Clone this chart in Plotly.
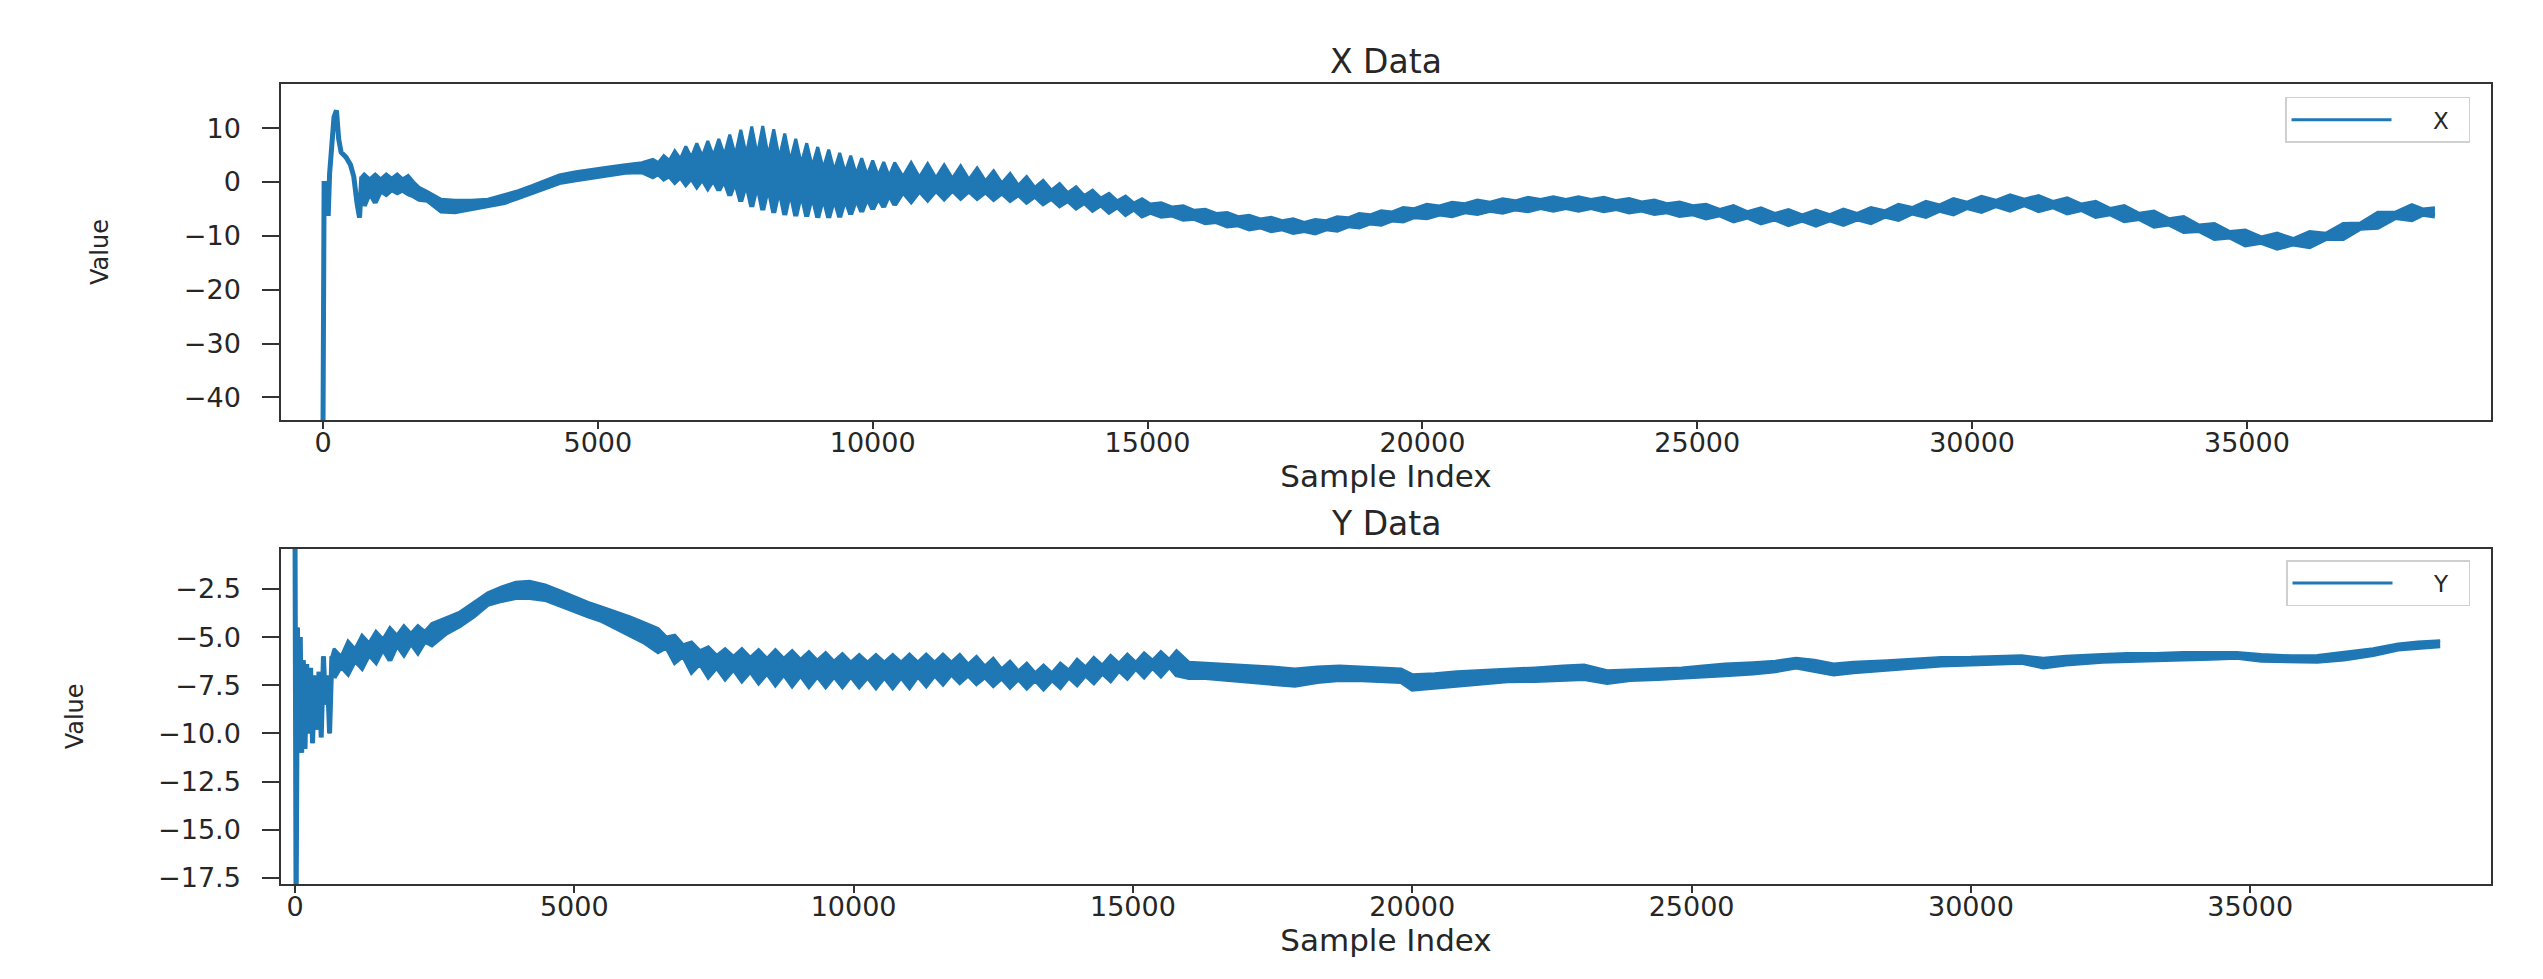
import plotly.graph_objects as go

# ---------------- X series (top panel) ----------------
# head of the record: a single thin path (upper = lower)
X_HEAD_IDX = [0, 20, 70, 95, 120, 200, 245, 285, 330, 420, 500, 560, 620, 665, 705]
X_HEAD_VAL = [-46.0, -0.3, -0.3, -6.3, 1.5, 12.0, 13.3, 8.0, 5.5, 4.6, 3.2, 1.0, -4.0, -6.6, 1.0]

# oscillating band: sample index, upper edge, lower edge
X_BAND_IDX = [
    750, 850, 950, 1050, 1150, 1250, 1350, 1450, 1550, 1650,
    1750, 1900, 2150, 2400, 2700, 3000, 3300, 3550, 3800, 4050,
    4300, 4600, 4900, 5200, 5500, 5800, 6000, 6100, 6200, 6300,
    6400, 6500, 6600, 6700, 6800, 6900, 7000, 7100, 7200, 7300,
    7400, 7500, 7600, 7700, 7800, 7900, 8000, 8100, 8200, 8300,
    8400, 8500, 8600, 8700, 8800, 8900, 9000, 9100, 9200, 9300,
    9400, 9500, 9600, 9700, 9800, 9900, 10000, 10100, 10200, 10300,
    10400, 10550, 10700, 10850, 11000, 11150, 11300, 11450, 11600, 11750,
    11900, 12050, 12200, 12350, 12500, 12650, 12800, 12950, 13100, 13250,
    13400, 13550, 13700, 13850, 14000, 14150, 14300, 14450, 14600, 14750,
    14900, 15050, 15250, 15450, 15650, 15850, 16050, 16250, 16450, 16650,
    16850, 17050, 17250, 17450, 17650, 17850, 18050, 18250, 18450, 18650,
    18850, 19050, 19250, 19450, 19650, 19850, 20080, 20310, 20540, 20770,
    21000, 21230, 21460, 21690, 21920, 22150, 22380, 22610, 22840, 23070,
    23300, 23530, 23760, 23990, 24220, 24450, 24680, 24920, 25160, 25410,
    25660, 25910, 26160, 26410, 26660, 26910, 27160, 27410, 27660, 27910,
    28160, 28410, 28660, 28910, 29160, 29410, 29660, 29910, 30170, 30430,
    30690, 30950, 31210, 31470, 31730, 31990, 32250, 32510, 32770, 33040,
    33310, 33580, 33850, 34130, 34410, 34690, 34970, 35260, 35550, 35840,
    36140, 36440, 36750, 37060, 37380, 37700, 38000, 38200, 38420,
]
X_BAND_HI = [
    1.5, 0.6, 1.5, 0.6, 1.5, 0.7, 1.5, 0.6, 1.2, 0.0,
    -1.0, -1.8, -3.2, -3.4, -3.4, -3.2, -2.4, -1.6, -0.7, 0.3,
    1.3, 1.9, 2.4, 2.8, 3.2, 3.6, 4.2, 3.6, 4.9, 4.0,
    5.8, 4.3, 6.6, 4.6, 7.2, 4.8, 7.6, 4.9, 8.0, 5.0,
    8.8, 5.0, 9.7, 5.1, 10.3, 5.0, 10.4, 4.8, 9.8, 4.4,
    9.0, 3.9, 8.0, 3.4, 7.2, 2.9, 6.5, 2.5, 6.0, 2.1,
    5.4, 1.8, 4.9, 1.5, 4.4, 1.3, 4.0, 1.2, 3.7, 1.1,
    3.6, 1.0, 3.6, 0.9, 3.4, 0.8, 3.2, 0.7, 3.0, 0.5,
    2.6, 0.2, 2.1, -0.2, 1.6, -0.6, 1.0, -1.0, 0.3, -1.5,
    -0.3, -2.0, -0.9, -2.5, -1.5, -3.0, -2.1, -3.5, -2.6, -3.9,
    -3.1, -4.1, -3.85, -4.65, -4.4, -5.25, -5.05, -5.85, -5.65, -6.45,
    -6.2, -6.85, -6.55, -7.2, -6.85, -7.5, -6.95, -7.2, -6.45, -6.65,
    -5.85, -6.1, -5.35, -5.55, -4.75, -4.95, -4.15, -4.45, -3.75, -4.05,
    -3.35, -3.75, -3.1, -3.5, -2.85, -3.25, -2.75, -3.25, -2.75, -3.25,
    -2.85, -3.45, -3.05, -3.7, -3.35, -4.05, -3.7, -4.4, -4.15, -5.1,
    -4.4, -5.5, -4.8, -5.85, -5.1, -6.1, -5.2, -6.05, -5.05, -5.85,
    -4.75, -5.35, -4.15, -4.75, -3.6, -4.25, -3.1, -3.75, -2.65, -3.4,
    -2.4, -3.2, -2.5, -3.6, -2.95, -4.1, -3.6, -4.9, -4.4, -5.8,
    -5.4, -6.8, -6.4, -8.0, -7.7, -9.2, -8.9, -10.2, -9.5, -10.5,
    -9.2, -9.5, -7.7, -7.6, -5.6, -5.6, -4.2, -5.0, -4.8,
]
X_BAND_LO = [
    -4.4, -2.0, -3.8, -1.6, -2.3, -1.4, -2.0, -1.5, -2.2, -2.6,
    -3.2, -3.4, -5.4, -5.5, -5.0, -4.5, -3.8, -2.9, -2.0, -1.0,
    -0.1, 0.4, 0.9, 1.3, 1.8, 1.9, 1.0, 1.6, 0.6, 1.2,
    0.0, 1.0, -0.4, 0.8, -0.8, 0.6, -1.1, 0.5, -1.5, 0.4,
    -2.5, 0.2, -3.6, 0.0, -4.6, -0.2, -5.2, -0.6, -5.7, -1.0,
    -6.1, -1.4, -6.3, -1.8, -6.4, -2.2, -6.6, -2.6, -6.6, -2.9,
    -6.5, -3.0, -6.0, -3.0, -5.5, -2.9, -5.0, -2.8, -4.6, -2.2,
    -4.2, -1.8, -3.6, -1.6, -3.3, -1.5, -3.1, -1.5, -3.0, -1.6,
    -3.0, -1.8, -3.2, -2.0, -3.4, -2.3, -3.7, -2.6, -4.0, -3.0,
    -4.4, -3.4, -4.8, -3.8, -5.2, -4.2, -5.6, -4.6, -6.0, -5.0,
    -6.3, -5.6, -6.35, -6.15, -6.9, -6.75, -7.55, -7.35, -8.15, -7.95,
    -8.7, -8.35, -9.05, -8.7, -9.35, -9.0, -9.45, -8.7, -8.95, -8.15,
    -8.35, -7.6, -7.85, -7.05, -7.25, -6.45, -6.65, -5.95, -6.25, -5.55,
    -5.85, -5.25, -5.6, -5.0, -5.35, -4.75, -5.25, -4.75, -5.25, -4.75,
    -5.35, -4.95, -5.55, -5.2, -5.85, -5.55, -6.2, -5.9, -6.65, -6.1,
    -7.2, -6.5, -7.6, -6.85, -7.9, -7.1, -8.0, -7.05, -7.85, -6.85,
    -7.55, -6.35, -6.95, -5.75, -6.4, -5.25, -5.9, -4.75, -5.45, -4.4,
    -5.2, -4.2, -5.3, -4.6, -5.75, -5.1, -6.4, -5.9, -7.2, -6.8,
    -8.2, -7.8, -9.2, -9.0, -10.5, -10.2, -11.7, -11.2, -12.3, -11.5,
    -12.0, -10.5, -10.5, -8.6, -8.4, -6.6, -7.0, -6.0, -6.3,
]

# ---------------- Y series (bottom panel) ----------------
Y_HEAD_IDX = [0, 20, 45, 70, 95, 120, 150, 180, 210, 245, 280, 315, 350, 390, 430, 470, 510, 545, 580, 620, 660]
Y_HEAD_VAL = [1.5, -19.5, -4.5, -11.0, -5.0, -11.0, -6.2, -10.8, -6.4, -10.0, -6.6, -10.5,
              -7.0, -9.8, -6.8, -10.2, -6.0, -8.5, -7.0, -10.0, -6.0]

Y_BAND_IDX = [
    700, 825, 950, 1075, 1200, 1325, 1450, 1575, 1700, 1825,
    1950, 2075, 2200, 2325, 2450, 2700, 2950, 3200, 3450, 3700,
    3950, 4200, 4480, 4750, 5000, 5250, 5500, 5750, 6000, 6250,
    6500, 6650, 6800, 6950, 7100, 7250, 7400, 7550, 7700, 7850,
    8000, 8150, 8300, 8450, 8600, 8750, 8900, 9050, 9200, 9350,
    9500, 9650, 9800, 9950, 10100, 10250, 10400, 10550, 10700, 10850,
    11000, 11150, 11300, 11450, 11600, 11750, 11900, 12050, 12200, 12350,
    12500, 12650, 12800, 12950, 13100, 13250, 13400, 13550, 13700, 13850,
    14000, 14150, 14300, 14450, 14600, 14750, 14900, 15050, 15200, 15350,
    15500, 15650, 15780, 16000, 16300, 16700, 17100, 17500, 17900, 18300,
    18700, 19100, 19500, 19800, 20000, 20400, 20800, 21200, 21700, 22200,
    22700, 23077, 23489, 23900, 24400, 24824, 25200, 25600, 26100, 26500,
    26870, 27200, 27543, 27900, 28500, 29000, 29469, 30000, 30500, 30911,
    31296, 31700, 32353, 32800, 33300, 33797, 34300, 34758, 35200, 35721,
    36200, 36680, 37200, 37646, 38000, 38400,
]
Y_BAND_HI = [
    -5.6, -6.0, -5.2, -5.6, -4.9, -5.3, -4.7, -5.1, -4.5, -4.9,
    -4.4, -4.8, -4.4, -4.7, -4.3, -4.0, -3.7, -3.2, -2.7, -2.4,
    -2.15, -2.1, -2.3, -2.6, -2.9, -3.2, -3.45, -3.7, -3.95, -4.25,
    -4.55, -5.0, -4.9, -5.4, -5.25, -5.7, -5.5, -5.95, -5.6, -6.0,
    -5.6, -6.05, -5.65, -6.1, -5.65, -6.1, -5.7, -6.15, -5.75, -6.2,
    -5.8, -6.25, -5.85, -6.3, -5.9, -6.3, -5.9, -6.3, -5.9, -6.3,
    -5.88, -6.3, -5.88, -6.3, -5.88, -6.3, -5.9, -6.4, -6.0, -6.5,
    -6.1, -6.65, -6.25, -6.75, -6.35, -6.85, -6.45, -6.85, -6.35, -6.7,
    -6.15, -6.55, -6.05, -6.45, -5.95, -6.35, -5.88, -6.3, -5.82, -6.2,
    -5.75, -6.15, -5.7, -6.3, -6.35, -6.4, -6.45, -6.55, -6.65, -6.55,
    -6.5, -6.55, -6.6, -6.65, -6.95, -6.9, -6.8, -6.75, -6.66, -6.6,
    -6.5, -6.45, -6.75, -6.7, -6.65, -6.6, -6.5, -6.4, -6.33, -6.25,
    -6.1, -6.2, -6.4, -6.3, -6.23, -6.15, -6.06, -6.05, -6.0, -5.97,
    -6.1, -6.0, -5.9, -5.85, -5.85, -5.8, -5.8, -5.8, -5.9, -5.97,
    -5.95, -5.8, -5.6, -5.36, -5.25, -5.19,
]
Y_BAND_LO = [
    -7.1, -6.5, -6.9, -6.2, -6.6, -5.9, -6.3, -5.6, -6.2, -5.4,
    -5.9, -5.3, -5.8, -5.2, -5.4, -4.8, -4.4, -3.9, -3.3, -3.1,
    -2.95, -2.95, -3.05, -3.35, -3.65, -3.9, -4.15, -4.5, -4.85, -5.25,
    -5.75, -5.5, -6.3, -5.95, -6.8, -6.35, -7.05, -6.55, -7.15, -6.65,
    -7.25, -6.75, -7.35, -6.85, -7.45, -6.9, -7.5, -6.95, -7.55, -7.0,
    -7.55, -7.0, -7.55, -7.0, -7.55, -7.05, -7.6, -7.05, -7.6, -7.05,
    -7.6, -7.0, -7.5, -6.95, -7.42, -6.9, -7.35, -6.95, -7.4, -7.05,
    -7.5, -7.1, -7.58, -7.15, -7.62, -7.2, -7.67, -7.2, -7.6, -7.05,
    -7.45, -6.95, -7.35, -6.85, -7.25, -6.7, -7.12, -6.6, -7.05, -6.55,
    -7.0, -6.5, -6.95, -7.1, -7.1, -7.2, -7.27, -7.4, -7.5, -7.3,
    -7.2, -7.22, -7.25, -7.3, -7.7, -7.6, -7.5, -7.4, -7.27, -7.25,
    -7.2, -7.15, -7.35, -7.2, -7.15, -7.1, -7.05, -6.95, -6.87, -6.75,
    -6.55, -6.7, -6.92, -6.8, -6.67, -6.55, -6.45, -6.4, -6.35, -6.31,
    -6.55, -6.4, -6.25, -6.2, -6.2, -6.14, -6.1, -6.05, -6.2, -6.25,
    -6.25, -6.14, -5.9, -5.62, -5.52, -5.45,
]

# axis ticks
X_TICKS = [0, 5000, 10000, 15000, 20000, 25000, 30000, 35000]
TOP_Y_TICKS = [-40, -30, -20, -10, 0, 10]
BOT_Y_TICKS = [-17.5, -15.0, -12.5, -10.0, -7.5, -5.0, -2.5]

BLUE = "#1f77b4"
INK = "#262626"
SPINE = "#333333"
FONT = "DejaVu Sans"
LW_EDGE = 5      # lower edge (also carries the fill)
LW_TOP = 3       # upper edge (its width is what the legend shows)
NB = "\u00a0"


def fmt_minus(v, decimals):
    s = f"{abs(v):.{decimals}f}"
    return ("\u2212" + s) if v < 0 else s


x_idx = X_HEAD_IDX + X_BAND_IDX
x_hi = X_HEAD_VAL + X_BAND_HI
x_lo = X_HEAD_VAL + X_BAND_LO
y_idx = Y_HEAD_IDX + Y_BAND_IDX
y_hi = Y_HEAD_VAL + Y_BAND_HI
y_lo = Y_HEAD_VAL + Y_BAND_LO

fig = go.Figure()
fig.add_trace(go.Scatter(x=x_idx, y=x_hi, mode="lines", name=NB * 5 + "X" + NB * 2,
                         line=dict(color=BLUE, width=LW_TOP), xaxis="x", yaxis="y",
                         legend="legend", hoverinfo="skip"))
fig.add_trace(go.Scatter(x=x_idx, y=x_lo, mode="lines", name="X", showlegend=False,
                         line=dict(color=BLUE, width=LW_EDGE), fill="tonexty", fillcolor=BLUE,
                         xaxis="x", yaxis="y", hoverinfo="skip"))
fig.add_trace(go.Scatter(x=y_idx, y=y_hi, mode="lines", name=NB * 5 + "Y" + NB * 2,
                         line=dict(color=BLUE, width=LW_TOP), xaxis="x2", yaxis="y2",
                         legend="legend2", hoverinfo="skip"))
fig.add_trace(go.Scatter(x=y_idx, y=y_lo, mode="lines", name="Y", showlegend=False,
                         line=dict(color=BLUE, width=LW_EDGE), fill="tonexty", fillcolor=BLUE,
                         xaxis="x2", yaxis="y2", hoverinfo="skip"))

axis_common = dict(showline=True, mirror=True, linecolor=SPINE, linewidth=1.5,
                   ticks="outside", tickcolor=SPINE, tickwidth=1.5,
                   showgrid=False, zeroline=False,
                   tickfont=dict(family=FONT, size=27, color=INK))

xtitle = dict(text="Sample Index", font=dict(family=FONT, size=31, color=INK), standoff=6)
ytitle = dict(text="Value", font=dict(family=FONT, size=24, color=INK))

legend_common = dict(x=0.9905, xanchor="right", yanchor="top",
                     bgcolor="white", bordercolor="#d0d0d0", borderwidth=1.5,
                     font=dict(family=FONT, size=23, color=INK), itemwidth=100)

fig.update_layout(
    width=2543, height=979, autosize=False,
    paper_bgcolor="white", plot_bgcolor="white",
    margin=dict(l=281, r=52, t=84, b=95, pad=0),
    font=dict(family=FONT, color=INK),
    xaxis=dict(axis_common, domain=[0, 1], anchor="y", range=[-764, 39440],
               tickvals=X_TICKS, ticktext=[str(v) for v in X_TICKS], ticklen=7,
               ticklabelstandoff=-9, title=xtitle),
    yaxis=dict(axis_common, domain=[0.58, 1], anchor="x", range=[-44.2, 18.2],
               tickvals=TOP_Y_TICKS, ticktext=[fmt_minus(v, 0) for v in TOP_Y_TICKS],
               ticklen=17, ticklabelstandoff=16, title=dict(ytitle, standoff=68)),
    xaxis2=dict(axis_common, domain=[0, 1], anchor="y2", range=[-250, 39310],
                tickvals=X_TICKS, ticktext=[str(v) for v in X_TICKS], ticklen=7,
                ticklabelstandoff=-9, title=xtitle),
    yaxis2=dict(axis_common, domain=[0, 0.419], anchor="x2", range=[-17.81, -0.42],
                tickvals=BOT_Y_TICKS, ticktext=[fmt_minus(v, 1) for v in BOT_Y_TICKS],
                ticklen=17, ticklabelstandoff=16, title=dict(ytitle, standoff=68)),
    legend=dict(legend_common, y=0.984),
    legend2=dict(legend_common, y=0.405),
    annotations=[
        dict(text="X Data", xref="paper", yref="paper", x=0.5, y=1.0275,
             xanchor="center", yanchor="middle", showarrow=False,
             font=dict(family=FONT, size=33, color=INK)),
        dict(text="Y Data", xref="paper", yref="paper", x=0.5, y=0.451,
             xanchor="center", yanchor="middle", showarrow=False,
             font=dict(family=FONT, size=33, color=INK)),
    ],
)

fig.write_html("out.html")
